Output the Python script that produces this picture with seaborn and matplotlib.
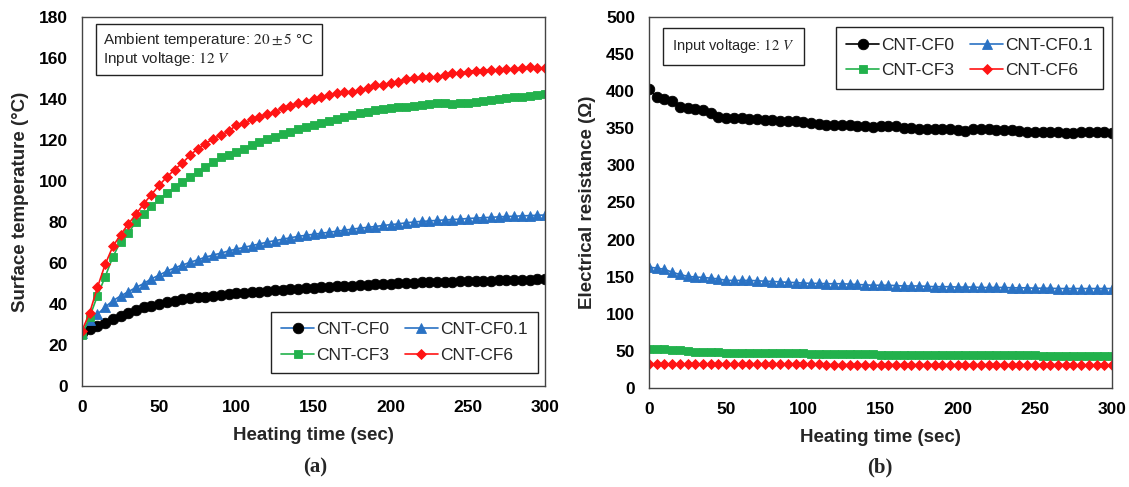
import matplotlib
matplotlib.use("Agg")
import matplotlib.pyplot as plt
import seaborn as sns

# ---------------- data ----------------
times = list(range(0, 301, 5))

series_names = ["CNT-CF0", "CNT-CF0.1", "CNT-CF3", "CNT-CF6"]

temp_cf0 = [26, 27.6, 29.3, 30.9, 32.5, 34.1, 35.8, 37, 38.4, 39.2,
            40, 40.8, 41.6, 42.3, 42.8, 43.3, 43.6, 43.9, 44.4, 44.7,
            45.2, 45.5, 45.9, 46, 46.3, 46.6, 46.9, 47.2, 47.5, 47.7,
            48, 48.2, 48.4, 48.6, 48.8, 49, 49.2, 49.4, 49.6, 49.7,
            49.9, 50.1, 50.2, 50.4, 50.5, 50.6, 50.7, 50.8, 50.9, 51,
            51.1, 51.2, 51.3, 51.4, 51.5, 51.6, 51.7, 51.8, 51.9, 52, 52.1]
temp_cf01 = [26, 32.2, 35, 38.5, 41.6, 43.9, 46, 48.1, 50, 52.3,
             54.1, 56, 57.6, 59, 60.3, 61.6, 62.8, 63.9, 64.8, 65.9,
             66.8, 67.6, 68.5, 69.3, 70.2, 70.9, 71.6, 72.3, 73, 73.5,
             74, 74.5, 75, 75.5, 76, 76.5, 77, 77.4, 77.8, 78.3,
             78.7, 79.1, 79.6, 80, 80.3, 80.5, 80.8, 81, 81.2, 81.4,
             81.7, 81.9, 82.1, 82.3, 82.5, 82.7, 82.8, 83, 83.1, 83.3, 83.4]
temp_cf3 = [25, 33.8, 44, 53.3, 63, 70.4, 74.5, 80.2, 83.7, 87.8,
            91, 94, 97, 99.7, 102, 104.5, 106.9, 109.4, 111.5, 112.5,
            114.3, 115.8, 117.6, 119.2, 120.3, 121.6, 122.9, 124.1, 125.2, 126.5,
            127.3, 128.4, 129.4, 130, 131.4, 132.2, 133, 133.8, 134.6, 135,
            135.4, 135.9, 136.3, 136.6, 137.1, 137.6, 137.9, 137.9, 137.6, 137.9,
            138.2, 138.7, 139.2, 139.5, 139.8, 140.3, 140.8, 141.1, 141.4, 141.9, 142.4]
temp_cf6 = [27, 35.8, 48.1, 59.3, 68.1, 73.8, 79, 83.8, 88.9, 93.4,
            97.9, 102, 105.5, 108.8, 112.5, 115.8, 118.2, 120.7, 122.3, 124.3,
            127.2, 128.3, 130, 131.3, 132.5, 133.8, 135.4, 136.6, 137.9, 138.7,
            139.8, 141.1, 141.9, 142.8, 143.6, 143.6, 144.4, 145.2, 146.8, 146.8,
            148, 148.5, 149.6, 150.1, 150.6, 150.6, 150.9, 151.7, 152.5, 152.5,
            153.4, 153.9, 153.9, 154.2, 154.2, 154.5, 154.5, 155, 155.5, 155, 155.3]

res_cf0 = [402.7, 392.3, 389, 387, 379, 377, 376, 374, 370, 365,
           364.4, 364.4, 363.5, 363, 362, 361.3, 361, 360, 360, 360,
           359, 357.7, 355.4, 354, 354, 354, 354, 353, 353, 351.8,
           352.5, 352.5, 352.5, 351, 351, 349, 349, 349, 349, 349,
           348, 347, 349, 349, 349, 348, 348, 348, 346, 345.5,
           345, 345, 345, 344.5, 344, 344, 344.5, 345, 345, 345, 343]
res_cf01 = [163, 161.5, 160, 156, 153, 150.5, 149.5, 149, 148, 147,
            145, 145, 145, 145, 144.5, 144, 143.5, 143, 142.5, 142,
            141.5, 141, 141, 140.5, 140.5, 140.5, 140, 139.5, 139, 138.5,
            138.5, 138.5, 138, 137.5, 137.5, 137.5, 137, 136.5, 136.5, 136.5,
            136, 136, 136, 135.5, 135.5, 135.5, 135.5, 135, 135, 135,
            134.5, 134.5, 134.5, 134, 134, 134, 134, 134, 134, 134, 134]
res_cf3 = [53, 52.5, 52, 51.5, 51, 49.5, 49, 48.5, 48.5, 48.5,
           47.5, 47.5, 47.5, 47.5, 47, 47, 46.5, 46.5, 46.5, 46.5,
           46.5, 46, 46, 46, 46, 46, 45.5, 45.5, 45.5, 45.5,
           45, 45, 45, 45, 45, 45, 44.5, 44.5, 44.5, 44.5,
           44.5, 44.5, 44.5, 44.5, 44, 44, 44, 44, 44, 44,
           44, 43.5, 43.5, 43.5, 43.5, 43.5, 43.5, 43.5, 43, 43, 43]
res_cf6 = [32.5, 32.5, 32.5, 32.5, 32.5, 32.5, 32, 32, 32, 32,
           32, 32, 32, 32, 32, 32, 32, 32, 32, 32,
           32, 32, 32, 31.5, 31.5, 31.5, 31.5, 31.5, 31.5, 31.5,
           31.5, 31.5, 31.5, 31.5, 31.5, 31.5, 31.5, 31.5, 31.5, 31.5,
           31.5, 31.5, 31.5, 31.5, 31.5, 31.5, 31.5, 31.5, 31.5, 31.5,
           31.5, 31.5, 31.5, 31.5, 31.5, 31, 31, 31, 31, 31, 31]
# trailing drop of the resistance lines at the end of the test (no marker)
res_tail = {"CNT-CF0.1": 0, "CNT-CF6": 0, "CNT-CF3": 0}

x_ticks = [0, 50, 100, 150, 200, 250, 300]
y_ticks_a = [0, 20, 40, 60, 80, 100, 120, 140, 160, 180]
y_ticks_b = [0, 50, 100, 150, 200, 250, 300, 350, 400, 450, 500]

# ---------------- style ----------------
sns.set_style("white")
plt.rcParams["font.family"] = ["Liberation Sans", "DejaVu Sans"]
plt.rcParams["mathtext.fontset"] = "stix"

colors = {"CNT-CF0": "#000000", "CNT-CF0.1": "#2A72C4",
          "CNT-CF3": "#22B14C", "CNT-CF6": "#FF1414"}
markers = {"CNT-CF0": "o", "CNT-CF0.1": "^", "CNT-CF3": "s", "CNT-CF6": "D"}
msizes = {"CNT-CF0": 7.6, "CNT-CF0.1": 7.4, "CNT-CF3": 6.0, "CNT-CF6": 5.6}

fig = plt.figure(figsize=(11.29, 4.87), dpi=100)
axA = fig.add_axes([82 / 1129, 1 - 386 / 487, 463 / 1129, 369 / 487])
axB = fig.add_axes([649 / 1129, 1 - 388 / 487, 463 / 1129, 371 / 487])

temps = {"CNT-CF0": temp_cf0, "CNT-CF0.1": temp_cf01,
         "CNT-CF3": temp_cf3, "CNT-CF6": temp_cf6}
ress = {"CNT-CF0": res_cf0, "CNT-CF0.1": res_cf01,
        "CNT-CF3": res_cf3, "CNT-CF6": res_cf6}


def draw(ax, data, line_colors):
    for name in series_names:
        c = colors[name]
        sns.lineplot(x=times, y=data[name], ax=ax, color=line_colors[name],
                     marker=markers[name], markersize=msizes[name],
                     markerfacecolor=c, markeredgecolor=c, markeredgewidth=0.6,
                     linewidth=1.2, label=name, sort=False, errorbar=None)


# Panel (a): line of CF0 drawn in blue with black markers, as in the original
line_colors_a = dict(colors)
line_colors_a["CNT-CF0"] = "#2A72C4"
draw(axA, temps, line_colors_a)

# Panel (b)
for name in ["CNT-CF0.1", "CNT-CF6", "CNT-CF3"]:
    sns.lineplot(x=[times[-1], times[-1]], y=[ress[name][-1], res_tail[name]],
                 ax=axB, color=colors[name], linewidth=1.4, legend=False,
                 sort=False, errorbar=None, zorder=5, clip_on=False)
draw(axB, ress, colors)

for ax, yt, ylabel in [(axA, y_ticks_a, "Surface temperature (°C)"),
                       (axB, y_ticks_b, "Electrical resistance (Ω)")]:
    ax.set_xlim(0, 300)
    ax.set_ylim(yt[0], yt[-1])
    ax.set_xticks(x_ticks)
    ax.set_yticks(yt)
    ax.tick_params(direction="in", length=4, width=0.9, colors="#444444",
                   labelcolor="black", labelsize=12.5)
    ax.tick_params(axis="x", pad=10)
    ax.tick_params(axis="y", pad=10)
    for lab in ax.get_xticklabels() + ax.get_yticklabels():
        lab.set_fontweight("bold")
    for sp in ax.spines.values():
        sp.set_color("#444444")
        sp.set_linewidth(1.0)
        sp.set_visible(True)
    ax.set_xlabel("Heating time (sec)", fontsize=13.5, fontweight="bold", labelpad=9)
    ax.set_ylabel(ylabel, fontsize=13.5, fontweight="bold", labelpad=7)
    ax.grid(False)

# legends (rows: CF0, CF0.1 / CF3, CF6)
def make_legend(ax, **kw):
    h, l = ax.get_legend_handles_labels()
    d = dict(zip(l, h))
    order = ["CNT-CF0", "CNT-CF3", "CNT-CF0.1", "CNT-CF6"]
    leg = ax.legend([d[o] for o in order], order, ncol=2, fontsize=12.5,
                    frameon=True, fancybox=False, framealpha=1,
                    edgecolor="#222222", handlelength=1.9, handletextpad=0.12,
                    columnspacing=0.9, labelspacing=0.6, borderpad=0.6,
                    borderaxespad=0, **kw)
    leg.get_frame().set_linewidth(1.0)
    return leg

make_legend(axA, loc="lower right", bbox_to_anchor=(0.985, 0.035))
make_legend(axB, loc="upper right", bbox_to_anchor=(0.981, 0.973))

box = dict(boxstyle="square,pad=0.45", fc="white", ec="#222222", lw=1.0)
axA.text(0.045, 0.962,
         "Ambient temperature: $20 \\pm 5$ °C \nInput voltage: $12\\ V$",
         transform=axA.transAxes, ha="left", va="top", fontsize=11,
         linespacing=1.05, bbox=box)
axB.text(0.05, 0.945, "Input voltage: $12\\ V$", transform=axB.transAxes,
         ha="left", va="top", fontsize=10.5,
         bbox=dict(box, boxstyle="square,pad=0.65"))

fig.text(315 / 1129, 1 - 467 / 487, "(a)", ha="center", va="center",
         fontsize=15, fontweight="bold", family="Liberation Serif")
fig.text(880 / 1129, 1 - 467 / 487, "(b)", ha="center", va="center",
         fontsize=15, fontweight="bold", family="Liberation Serif")

fig.savefig("out.png", dpi=100)
